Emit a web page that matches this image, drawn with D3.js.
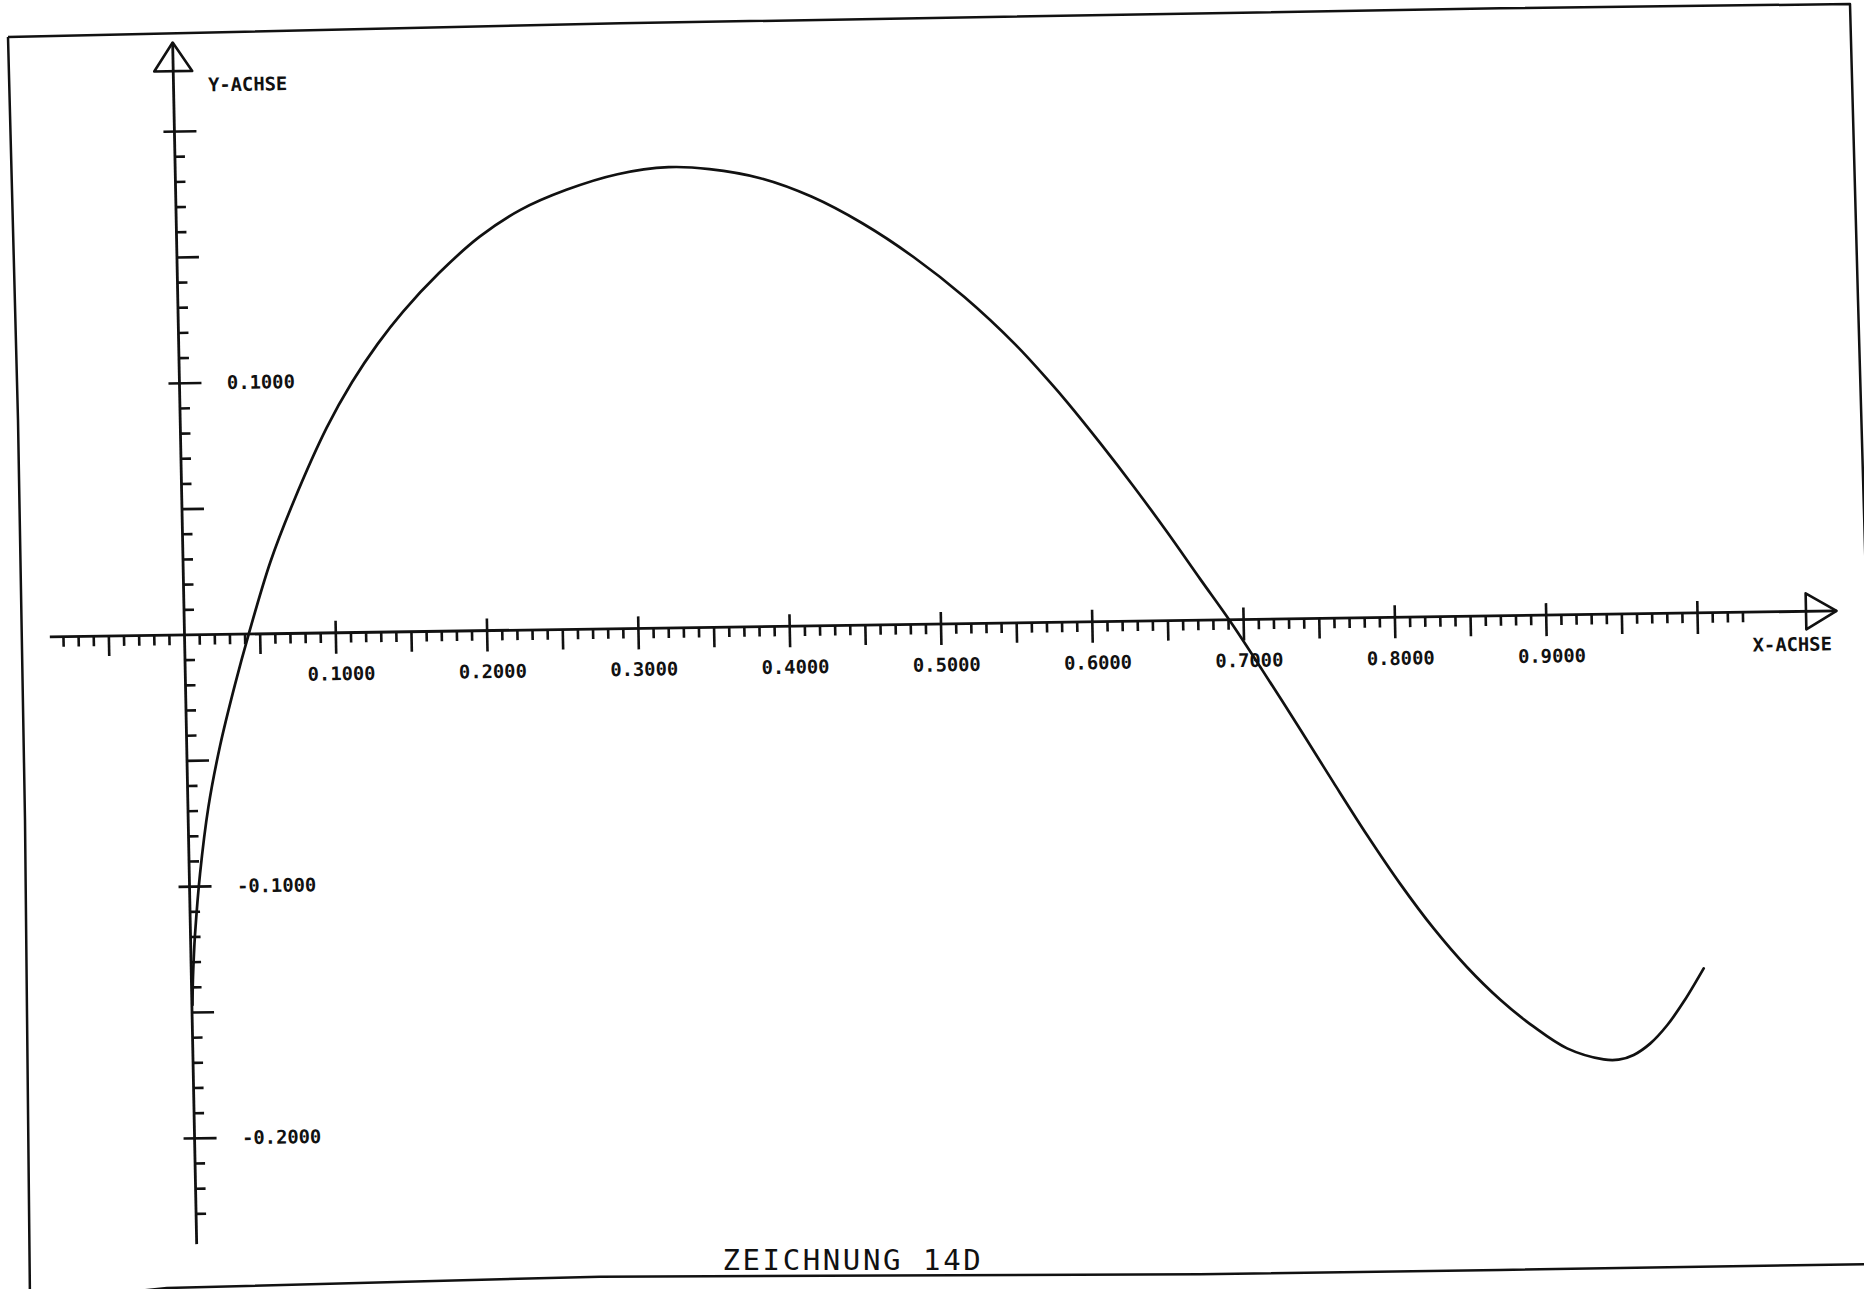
<!DOCTYPE html>
<html>
<head>
<meta charset="utf-8">
<script src="https://cdn.jsdelivr.net/npm/d3@7"></script>
<style>
  html, body { margin: 0; padding: 0; background: #ffffff; }
  svg { display: block; }
  .lbl { font-family: "DejaVu Sans Mono", monospace; font-weight: bold; font-size: 18.8px; fill: #111; }
  .title { font-family: "DejaVu Sans Mono", monospace; font-weight: normal; font-size: 29px; fill: #111; letter-spacing: 2.6px; }
</style>
</head>
<body>
<svg id="chart" width="1864" height="1289"></svg>
<script>
// ---------------- data ----------------
const curveX = [0.0004, 0.0010, 0.0020, 0.0030, 0.0071, 0.0135, 0.0220, 0.0327, 0.0425, 0.0577,
                0.0736, 0.0967, 0.1141, 0.1315, 0.1487, 0.1728, 0.2003, 0.2276, 0.2582, 0.2922,
                0.3260, 0.3530, 0.3865, 0.4200, 0.4533, 0.4867, 0.5198, 0.5529, 0.5753, 0.5861,
                0.6076, 0.6291, 0.6505, 0.6720, 0.6910, 0.7120, 0.7361, 0.7573, 0.7787, 0.8001,
                0.8215, 0.8431, 0.8646, 0.8863, 0.9081, 0.9321, 0.9420, 0.9520, 0.9630, 0.9745,
                0.9858, 0.9994];
const curveY = [-0.147, -0.137, -0.127, -0.119, -0.095, -0.0685, -0.0443, -0.0200, 0.0001, 0.0285,
                0.0520, 0.0815, 0.0995, 0.1145, 0.1272, 0.1422, 0.1565, 0.1669, 0.1746, 0.1805,
                0.1830, 0.1820, 0.1781, 0.1705, 0.1596, 0.1459, 0.1297, 0.1105, 0.0953, 0.0875,
                0.0709, 0.0535, 0.0353, 0.0162, -0.0005, -0.0205, -0.0441, -0.0653, -0.0863, -0.1060,
                -0.1238, -0.1394, -0.1525, -0.1634, -0.1722, -0.1768, -0.1770, -0.1752, -0.1708, -0.1636,
                -0.1543, -0.1412];

const xTickValues = [0.1, 0.2, 0.3, 0.4, 0.5, 0.6, 0.7, 0.8, 0.9];
const xTickLabels = ["0.1000", "0.2000", "0.3000", "0.4000", "0.5000", "0.6000", "0.7000", "0.8000", "0.9000"];
const yTickValues = [0.1, -0.1, -0.2];
const yTickLabels = ["0.1000", "-0.1000", "-0.2000"];

const xAxisTitle = "X-ACHSE";
const yAxisTitle = "Y-ACHSE";
const chartTitle = "ZEICHNUNG 14D";

// axis extents (data units)
const xAxisFrom = -0.089, xArrowBase = 1.0717, xArrowTip = 1.0919;
const yAxisFrom = -0.242, yArrowBase = 0.224, yArrowTip = 0.2354;
const xMinorFrom = -8, xMinorTo = 103;   // hundredths
const yMinorFrom = -23, yMinorTo = 20;   // hundredths

// ---------------- layout ----------------
const O = { x: 184.5, y: 635 };     // screen position of the origin
const k1 = 0.020, k2 = -0.0146;    // slight skew of the scanned sheet
const svg = d3.select("#chart");

const x = d3.scaleLinear().domain([0, 1]).range([O.x, O.x + 1513]);
const y = d3.scaleLinear().domain([0, 0.2]).range([O.y, O.y - 503.4]);

// sheet frame (scanned border)
const framePts = [[8, 37], [620, 23.3], [1500, 8.3], [1850, 4], [1858, 300], [1875, 900],
                  [1872, 1264], [1500, 1270], [1200, 1274.3], [600, 1276.7], [167, 1288], [30, 1302],
                  [25, 820], [18, 420], [8, 37]];
svg.append("path")
  .attr("d", d3.line()(framePts))
  .attr("fill", "none").attr("stroke", "#111").attr("stroke-width", 2.5)
  .attr("stroke-linejoin", "round");

const g = svg.append("g")
  .attr("transform", `translate(${O.x},${O.y}) matrix(1,${k2},${k1},1,0,0) translate(${-O.x},${-O.y})`);

const ink = "#111";
const axW = 2.8;

// X axis line
g.append("line")
  .attr("x1", x(xAxisFrom)).attr("x2", x(xArrowTip))
  .attr("y1", y(0)).attr("y2", y(0))
  .attr("stroke", ink).attr("stroke-width", axW);

// X ticks
const xt = d3.range(xMinorFrom, xMinorTo + 1).filter(i => i !== 0);
g.selectAll("line.xt").data(xt).join("line").attr("class", "xt")
  .attr("x1", i => x(i / 100)).attr("x2", i => x(i / 100))
  .attr("y1", i => y(0) - (i % 10 === 0 ? 12 : 0))
  .attr("y2", i => y(0) + (i % 10 === 0 ? 21 : (i % 5 === 0 ? 20 : 10)))
  .attr("stroke", ink).attr("stroke-width", 2.6);

// X arrow
g.append("path")
  .attr("d", d3.line()([[x(xArrowBase), y(0) - 18], [x(xArrowTip), y(0)], [x(xArrowBase), y(0) + 18]]) + "Z")
  .attr("fill", "none").attr("stroke", ink).attr("stroke-width", 2.6).attr("stroke-linejoin", "round");

// Y axis line
g.append("line")
  .attr("x1", x(0)).attr("x2", x(0))
  .attr("y1", y(yAxisFrom)).attr("y2", y(yArrowTip))
  .attr("stroke", ink).attr("stroke-width", axW);

// Y ticks
const yt = d3.range(yMinorFrom, yMinorTo + 1).filter(i => i !== 0);
g.selectAll("line.yt").data(yt).join("line").attr("class", "yt")
  .attr("y1", i => y(i / 100)).attr("y2", i => y(i / 100))
  .attr("x1", i => x(0) - (i % 10 === 0 ? 11 : 0))
  .attr("x2", i => x(0) + (i % 10 === 0 ? 22 : (i % 5 === 0 ? 22 : 10)))
  .attr("stroke", ink).attr("stroke-width", 2.6);

// Y arrow
g.append("path")
  .attr("d", d3.line()([[x(0) - 19, y(yArrowBase)], [x(0), y(yArrowTip)], [x(0) + 19, y(yArrowBase)]]) + "Z")
  .attr("fill", "none").attr("stroke", ink).attr("stroke-width", 2.6).attr("stroke-linejoin", "round");

// X tick labels
g.selectAll("text.xl").data(xTickValues).join("text").attr("class", "lbl xl")
  .attr("x", v => x(v) + 5).attr("y", y(0) + 41)
  .attr("text-anchor", "middle").attr("dominant-baseline", "central")
  .text((v, i) => xTickLabels[i]);

// Y tick labels
g.selectAll("text.yl").data(yTickValues).join("text").attr("class", "lbl yl")
  .attr("x", x(0) + 47.5).attr("y", v => y(v))
  .attr("text-anchor", "start").attr("dominant-baseline", "central")
  .text((v, i) => yTickLabels[i]);

// axis titles
g.append("text").attr("class", "lbl")
  .attr("x", x(0) + 34.5).attr("y", y(0.2184))
  .attr("dominant-baseline", "central")
  .text(yAxisTitle);
g.append("text").attr("class", "lbl")
  .attr("x", x(1.036)).attr("y", y(0) + 33)
  .attr("dominant-baseline", "central")
  .text(xAxisTitle);

// curve
const pts = curveX.map((v, i) => [x(v), y(curveY[i])]);
g.append("path")
  .attr("d", d3.line().curve(d3.curveCatmullRom.alpha(0.5))(pts))
  .attr("fill", "none").attr("stroke", ink).attr("stroke-width", 2.7)
  .attr("stroke-linejoin", "round").attr("stroke-linecap", "round");

// title
svg.append("text").attr("class", "title")
  .attr("x", 722.5).attr("y", 1270)
  .text(chartTitle);
</script>
</body>
</html>
